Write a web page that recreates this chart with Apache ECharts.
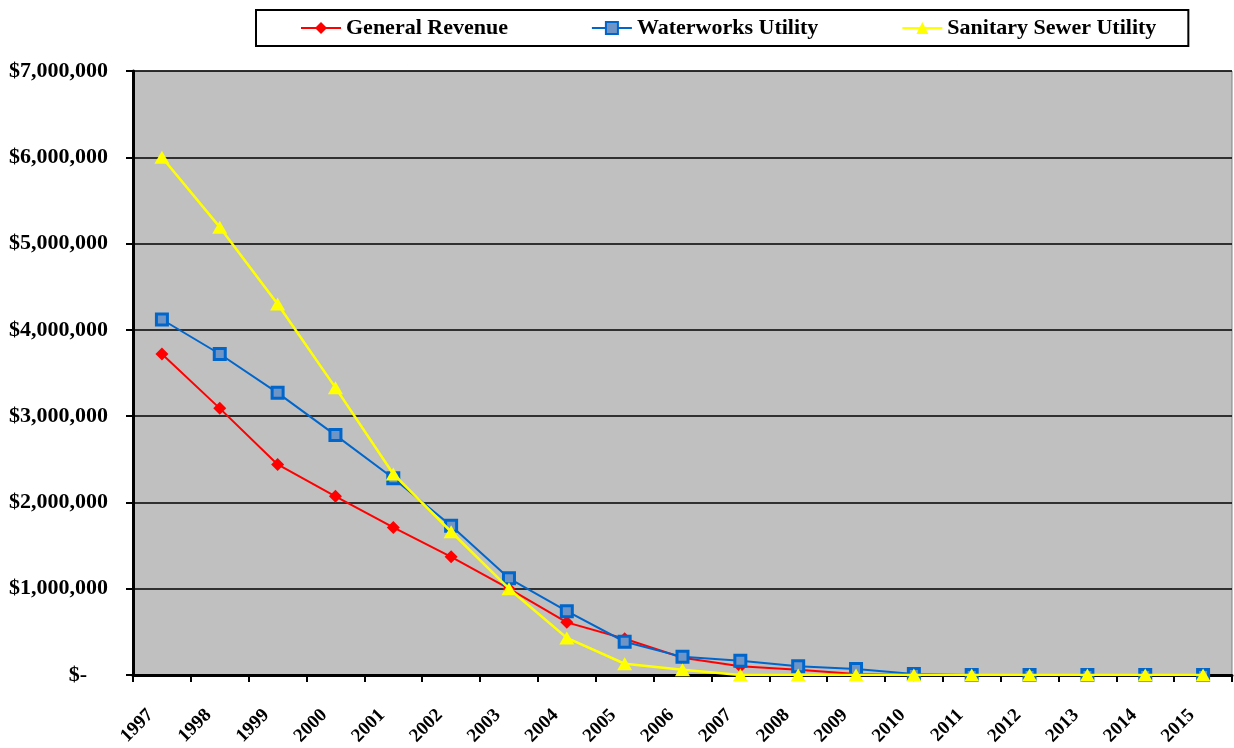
<!DOCTYPE html>
<html><head><meta charset="utf-8">
<script src="https://cdn.jsdelivr.net/npm/echarts@6/dist/echarts.min.js"></script>
<style>html,body{margin:0;padding:0;background:#fff}#c{width:1234px;height:748px}</style>
</head><body><div id="c"></div>
<script>
const years = ['1997','1998','1999','2000','2001','2002','2003','2004','2005','2006','2007','2008','2009','2010','2011','2012','2013','2014','2015'];
const generalRevenue = [3720000,3090000,2440000,2070000,1710000,1370000,1000000,610000,420000,200000,100000,60000,10000,0,0,0,0,0,0];
const waterworks = [4120000,3720000,3270000,2780000,2280000,1730000,1120000,740000,385000,210000,165000,100000,70000,10000,0,0,0,0,0];
const sanitarySewer = [6000000,5190000,4300000,3330000,2330000,1660000,1000000,430000,130000,60000,0,0,0,0,0,0,0,0,0];
const yTicks = {min:0, max:7000000, interval:1000000};

const serif = "'Liberation Serif','Times New Roman',serif";
const chart = echarts.init(document.getElementById('c'));
chart.setOption({
  animation:false,
  backgroundColor:'#fff',
  textStyle:{fontFamily:serif},
  grid:{left:133,right:2,top:71,bottom:73,show:true,backgroundColor:'#C0C0C0',borderColor:'#808080',borderWidth:1},
  legend:{
    left:256, top:10,
    padding:[7,32,7,44],
    itemGap:83, itemWidth:40, itemHeight:15,
    borderColor:'#000', borderWidth:2, backgroundColor:'#fff',
    textStyle:{fontFamily:serif,fontWeight:'bold',fontSize:22,color:'#000'},
    data:['General Revenue','Waterworks Utility','Sanitary Sewer Utility']
  },
  xAxis:{
    type:'category', data:years, boundaryGap:true,
    axisLine:{lineStyle:{color:'#000',width:3}},
    axisTick:{show:true,length:7,lineStyle:{color:'#000',width:2}},
    axisLabel:{rotate:45,interval:0,margin:26,padding:[0,16,0,0],fontFamily:serif,fontWeight:'bold',fontSize:19,color:'#000'},
    splitLine:{show:false}
  },
  yAxis:{
    type:'value', min:yTicks.min, max:yTicks.max, interval:yTicks.interval,
    axisLine:{show:true,lineStyle:{color:'#000',width:3}},
    axisTick:{show:true,length:7,lineStyle:{color:'#000',width:2}},
    splitLine:{show:true,lineStyle:{color:'#000',width:1.5}},
    axisLabel:{margin:25,fontFamily:serif,fontWeight:'bold',fontSize:22,color:'#000',
      formatter:function(v){ if(v===0) return '{d|$-}'; return '$'+v.toLocaleString('en-US'); },
      rich:{d:{fontFamily:serif,fontWeight:'bold',fontSize:22,color:'#000',padding:[0,21,0,0]}}
    }
  },
  series:[
    {name:'Waterworks Utility',type:'line',data:waterworks,symbol:'rect',symbolSize:11,
     lineStyle:{color:'#0066CC',width:2},itemStyle:{color:'#6E95C6',borderColor:'#0066CC',borderWidth:3},z:3},
    {name:'General Revenue',type:'line',data:generalRevenue,symbol:'diamond',symbolSize:13,
     lineStyle:{color:'#FF0000',width:2},itemStyle:{color:'#FF0000'},z:2},
    {name:'Sanitary Sewer Utility',type:'line',data:sanitarySewer,symbol:'triangle',symbolSize:[15,13],
     lineStyle:{color:'#FFFF00',width:2.5},itemStyle:{color:'#FFFF00'},z:4}
  ]
});
</script></body></html>
